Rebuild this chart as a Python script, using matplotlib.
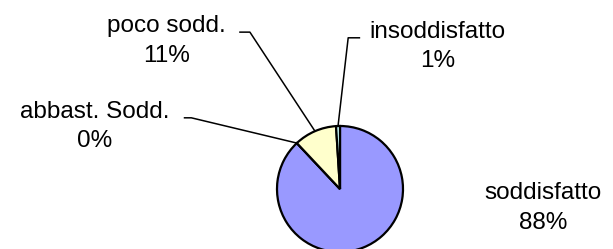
import numpy as np
import matplotlib
matplotlib.use('Agg')
import matplotlib.pyplot as plt

# Dati del grafico (giudizio di soddisfazione)
labels = ['soddisfatto', 'abbast. Sodd.', 'poco sodd.', 'insoddisfatto']
values = [88, 0, 11, 1]
colors = ['#9999FF', '#993366', '#FFFFCC', '#CCFFFF']

# Posizione delle etichette (unità = raggio della torta) e gomiti delle linee guida
label_pos = {
    'soddisfatto': (3.22, -0.16),
    'abbast. Sodd.': (-3.90, 1.13),
    'poco sodd.': (-2.75, 2.49),
    'insoddisfatto': (1.55, 2.40),
}
leader_elbow = {
    'abbast. Sodd.': [(-2.36, 1.13), (-2.48, 1.13)],
    'poco sodd.': [(-1.43, 2.49), (-1.60, 2.49)],
    'insoddisfatto': [(0.13, 2.40), (0.32, 2.40)],
}

plt.rcParams['font.family'] = ['Liberation Sans', 'DejaVu Sans']
FS = 17.5

fig = plt.figure(figsize=(6.13, 2.49), dpi=100)
ax = fig.add_axes([0, 0, 1, 1])

wedges, _ = ax.pie(values, colors=colors, startangle=90, counterclock=False,
                   radius=1, wedgeprops=dict(edgecolor='black', linewidth=1.6))

total = sum(values)
for w, name, v in zip(wedges, labels, values):
    pct = f'{v / total * 100:.0f}%'
    tx, ty = label_pos[name]
    ax.text(tx, ty, name, ha='center', va='baseline', fontsize=FS)
    ax.text(tx, ty - 0.47, pct, ha='center', va='baseline', fontsize=FS)
    if name in leader_elbow:
        # punto sul bordo a metà dello spicchio
        ang = np.deg2rad((w.theta1 + w.theta2) / 2)
        rim = (np.cos(ang), np.sin(ang))
        pts = [rim] + leader_elbow[name]
        xs, ys = zip(*pts)
        ax.plot(xs, ys, color='black', linewidth=1.1, solid_capstyle='butt')

ax.set_xlim(-340 / 63, (613 - 340) / 63)
ax.set_ylim(-(249 - 189) / 63, 189 / 63)
ax.set_aspect('auto')
ax.axis('off')

fig.savefig('out.png', dpi=100)
